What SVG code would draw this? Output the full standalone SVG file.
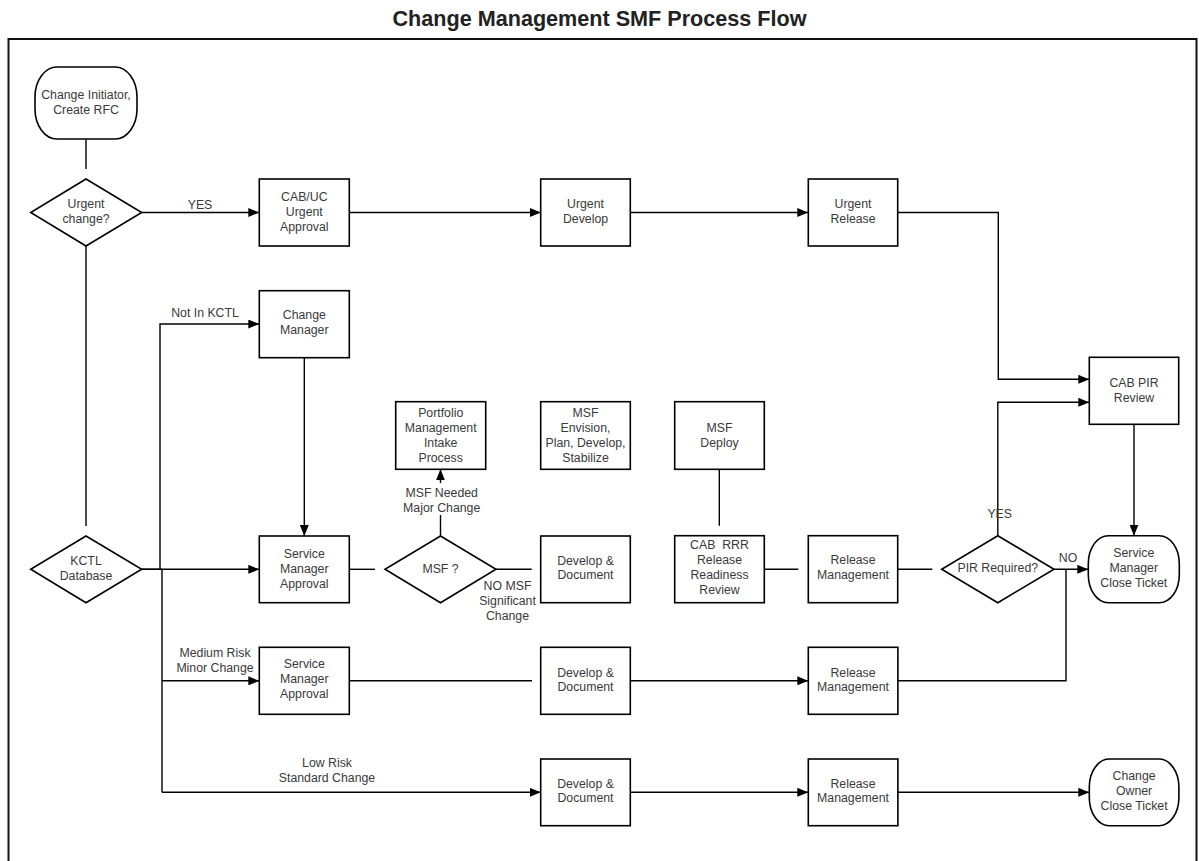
<svg xmlns="http://www.w3.org/2000/svg" width="1199" height="861" viewBox="0 0 1199 861">
  <defs>
    <marker id="arrow" viewBox="0 0 11 9" refX="11" refY="4.5" markerWidth="11" markerHeight="9" markerUnits="userSpaceOnUse" orient="auto">
      <path d="M0,0 L11,4.5 L0,9 z" fill="#000"/>
    </marker>
    <style>
      .box { fill: #fff; stroke: #000; stroke-width: 1.6; }
      .lbl { font-family: "Liberation Sans", Arial, sans-serif; font-size: 12.3px; fill: #3a3a3a; text-anchor: middle; }
      .edge { fill: none; stroke: #000; stroke-width: 1.4; }
      .arr { marker-end: url(#arrow); }
      .title { font-family: "Liberation Sans", Arial, sans-serif; font-size: 21.6px; font-weight: bold; fill: #222; text-anchor: middle; }
    </style>
  </defs>

  <rect width="1199" height="861" fill="#fff"/>
  <text class="title" x="599.5" y="26">Change Management SMF Process Flow</text>
  <rect x="8.5" y="39" width="1188" height="850" fill="none" stroke="#111" stroke-width="2"/>

  <!-- connectors -->
  <g id="connectors">
    <path class="edge" d="M86,139 V169"/>
    <path class="edge arr" d="M141.7,212.5 H259.3"/>
    <path class="edge arr" d="M349.3,212.5 H540.7"/>
    <path class="edge arr" d="M630.3,212.5 H808.3"/>
    <path class="edge arr" d="M897.7,212.5 H998.3 V379.3 H1089.3"/>
    <path class="edge" d="M86,246 V526"/>
    <path class="edge" d="M141.7,569.3 H162" stroke-width="2.6"/>
    <path class="edge arr" d="M141.7,569.3 H259.3"/>
    <path class="edge arr" d="M160,569.3 V324 H259.3"/>
    <path class="edge arr" d="M304.3,357.7 V536"/>
    <path class="edge" d="M349.3,569.3 H375"/>
    <path class="edge" d="M440.5,536 V515"/>
    <path class="edge arr" d="M440.5,483 V469.3"/>
    <path class="edge" d="M496,569.3 H531.7"/>
    <path class="edge" d="M719.3,469.3 V525.7"/>
    <path class="edge" d="M764.3,569.3 H798.3"/>
    <path class="edge" d="M897.7,569.3 H932.3"/>
    <path class="edge arr" d="M997.8,535.7 V402.3 H1089.3"/>
    <path class="edge arr" d="M1054,569.3 H1088.3"/>
    <path class="edge arr" d="M1134,424.3 V535.7"/>
    <path class="edge" d="M162,569.3 V792.3"/>
    <path class="edge arr" d="M162,680.8 H259.3"/>
    <path class="edge" d="M349.3,680.8 H532"/>
    <path class="edge arr" d="M630.3,680.8 H808.3"/>
    <path class="edge" d="M897.7,680.8 H1066 V569.3"/>
    <path class="edge arr" d="M162,792.3 H540.7"/>
    <path class="edge arr" d="M630.3,792.3 H808.3"/>
    <path class="edge arr" d="M897.7,792.3 H1089.3"/>
  </g>

  <!-- connector labels -->
  <g id="edge-labels">
    <text class="lbl" x="200" y="209">YES</text>
    <text class="lbl" x="205" y="316.7">Not In KCTL</text>
    <text class="lbl" x="441.7" y="496.7">MSF Needed</text>
    <text class="lbl" x="441.7" y="511.7">Major Change</text>
    <text class="lbl" x="507.5" y="590">NO MSF</text>
    <text class="lbl" x="507.5" y="605">Significant</text>
    <text class="lbl" x="507.5" y="620">Change</text>
    <text class="lbl" x="999.7" y="517.7">YES</text>
    <text class="lbl" x="1068" y="561.7">NO</text>
    <text class="lbl" x="215" y="656.7">Medium Risk</text>
    <text class="lbl" x="215" y="671.7">Minor Change</text>
    <text class="lbl" x="327" y="767.3">Low Risk</text>
    <text class="lbl" x="327" y="782.3">Standard Change</text>
  </g>

  <!-- nodes -->
  <g id="start">
    <rect class="box" x="35" y="67" width="102" height="72" rx="22" ry="30"/>
    <text class="lbl" x="86" y="99.3">Change Initiator,</text>
    <text class="lbl" x="86" y="114.3">Create RFC</text>
  </g>
  <g id="urgent-change">
    <polygon class="box" points="86,179 141.7,212.5 86,246 30.7,212.5"/>
    <text class="lbl" x="86" y="208.3">Urgent</text>
    <text class="lbl" x="86" y="223.3">change?</text>
  </g>
  <g id="cab-uc">
    <rect class="box" x="259.3" y="179" width="90" height="67"/>
    <text class="lbl" x="304.3" y="201">CAB/UC</text>
    <text class="lbl" x="304.3" y="216">Urgent</text>
    <text class="lbl" x="304.3" y="231">Approval</text>
  </g>
  <g id="urgent-develop">
    <rect class="box" x="540.7" y="179" width="89.6" height="67"/>
    <text class="lbl" x="585.5" y="208.3">Urgent</text>
    <text class="lbl" x="585.5" y="223.3">Develop</text>
  </g>
  <g id="urgent-release">
    <rect class="box" x="808.3" y="179" width="89.4" height="67"/>
    <text class="lbl" x="853" y="208.3">Urgent</text>
    <text class="lbl" x="853" y="223.3">Release</text>
  </g>
  <g id="change-manager">
    <rect class="box" x="259.3" y="290.7" width="90" height="67"/>
    <text class="lbl" x="304.3" y="319.3">Change</text>
    <text class="lbl" x="304.3" y="334.3">Manager</text>
  </g>
  <g id="cab-pir">
    <rect class="box" x="1089.3" y="357.3" width="89.4" height="67"/>
    <text class="lbl" x="1134" y="386.7">CAB PIR</text>
    <text class="lbl" x="1134" y="401.7">Review</text>
  </g>
  <g id="portfolio">
    <rect class="box" x="395.7" y="401.7" width="90" height="67.6"/>
    <text class="lbl" x="440.7" y="416.7">Portfolio</text>
    <text class="lbl" x="440.7" y="431.7">Management</text>
    <text class="lbl" x="440.7" y="446.7">Intake</text>
    <text class="lbl" x="440.7" y="461.7">Process</text>
  </g>
  <g id="msf-envision">
    <rect class="box" x="540.7" y="401.7" width="89.6" height="67.6"/>
    <text class="lbl" x="585.5" y="416.7">MSF</text>
    <text class="lbl" x="585.5" y="431.7">Envision,</text>
    <text class="lbl" x="585.5" y="446.7">Plan, Develop,</text>
    <text class="lbl" x="585.5" y="461.7">Stabilize</text>
  </g>
  <g id="msf-deploy">
    <rect class="box" x="674.7" y="401.7" width="89.6" height="67.6"/>
    <text class="lbl" x="719.5" y="431.7">MSF</text>
    <text class="lbl" x="719.5" y="446.7">Deploy</text>
  </g>
  <g id="kctl-database">
    <polygon class="box" points="86,536 141.7,569.3 86,602.7 30.7,569.3"/>
    <text class="lbl" x="86" y="565">KCTL</text>
    <text class="lbl" x="86" y="580">Database</text>
  </g>
  <g id="sm-approval">
    <rect class="box" x="259.3" y="536" width="90" height="66.7"/>
    <text class="lbl" x="304.3" y="557.7">Service</text>
    <text class="lbl" x="304.3" y="572.7">Manager</text>
    <text class="lbl" x="304.3" y="587.7">Approval</text>
  </g>
  <g id="msf-decision">
    <polygon class="box" points="440.5,536 496,569.3 440.5,602.7 385,569.3"/>
    <text class="lbl" x="440.5" y="573.3">MSF ?</text>
  </g>
  <g id="develop-document">
    <rect class="box" x="540.7" y="536" width="89.6" height="66.7"/>
    <text class="lbl" x="585.5" y="565">Develop &amp;</text>
    <text class="lbl" x="585.5" y="579.3">Document</text>
  </g>
  <g id="cab-rrr">
    <rect class="box" x="674.7" y="535.7" width="89.6" height="67"/>
    <text class="lbl" x="719.5" y="549.3" xml:space="preserve">CAB  RRR</text>
    <text class="lbl" x="719.5" y="564.3">Release</text>
    <text class="lbl" x="719.5" y="579.3">Readiness</text>
    <text class="lbl" x="719.5" y="594.3">Review</text>
  </g>
  <g id="release-management">
    <rect class="box" x="808.3" y="535.7" width="89.4" height="67"/>
    <text class="lbl" x="853" y="564">Release</text>
    <text class="lbl" x="853" y="579">Management</text>
  </g>
  <g id="pir-required">
    <polygon class="box" points="997.8,535.7 1054,569.2 997.8,602.7 941.7,569.2"/>
    <text class="lbl" x="997.8" y="572.3">PIR Required?</text>
  </g>
  <g id="sm-close-ticket">
    <rect class="box" x="1088.3" y="535.7" width="91" height="67" rx="20" ry="28"/>
    <text class="lbl" x="1133.8" y="557.3">Service</text>
    <text class="lbl" x="1133.8" y="572.3">Manager</text>
    <text class="lbl" x="1133.8" y="587.3">Close Ticket</text>
  </g>
  <g id="sm-approval-minor">
    <rect class="box" x="259.3" y="647.3" width="90" height="67"/>
    <text class="lbl" x="304.3" y="668.3">Service</text>
    <text class="lbl" x="304.3" y="683.3">Manager</text>
    <text class="lbl" x="304.3" y="698.3">Approval</text>
  </g>
  <g id="develop-document-minor">
    <rect class="box" x="540.7" y="647.3" width="89.6" height="67"/>
    <text class="lbl" x="585.5" y="676.5">Develop &amp;</text>
    <text class="lbl" x="585.5" y="690.8">Document</text>
  </g>
  <g id="release-management-minor">
    <rect class="box" x="808.3" y="647.3" width="89.6" height="67"/>
    <text class="lbl" x="853" y="676.5">Release</text>
    <text class="lbl" x="853" y="690.8">Management</text>
  </g>
  <g id="develop-document-standard">
    <rect class="box" x="540.7" y="759" width="89.6" height="66.7"/>
    <text class="lbl" x="585.5" y="788">Develop &amp;</text>
    <text class="lbl" x="585.5" y="802.3">Document</text>
  </g>
  <g id="release-management-standard">
    <rect class="box" x="808.3" y="759" width="89.6" height="66.7"/>
    <text class="lbl" x="853" y="788">Release</text>
    <text class="lbl" x="853" y="802.3">Management</text>
  </g>
  <g id="owner-close-ticket">
    <rect class="box" x="1089.3" y="759" width="89.6" height="66.7" rx="20" ry="28"/>
    <text class="lbl" x="1134.1" y="780">Change</text>
    <text class="lbl" x="1134.1" y="795">Owner</text>
    <text class="lbl" x="1134.1" y="810">Close Ticket</text>
  </g>
</svg>
